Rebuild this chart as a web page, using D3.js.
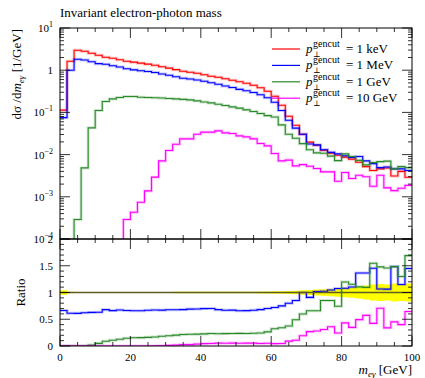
<!DOCTYPE html>
<html>
<head>
<meta charset="utf-8">
<script src="https://d3js.org/d3.v7.min.js"></script>
<style>
body { margin: 0; background: #fff; }
text { font-family: "Liberation Serif", "DejaVu Serif", serif; fill: #000; }
</style>
</head>
<body>
<svg width="425" height="378"></svg>
<script>

// bin edges, 2 GeV wide
var edges = d3.range(0, 101, 2);

// dsigma/dm per bin, one array per generator cut
var keV = [0.113, 1.63, 2.98, 2.82, 2.53, 2.27, 2.03, 1.92, 1.77, 1.63,
  1.55, 1.47, 1.39, 1.31, 1.21, 1.12, 1.03, 0.947, 0.897, 0.849,
  0.782, 0.721, 0.683, 0.629, 0.579, 0.534, 0.492, 0.441, 0.385, 0.318,
  0.242, 0.148, 0.0813, 0.0498, 0.0304, 0.0197, 0.0167, 0.0127, 0.0108, 0.00968,
  0.0087, 0.0078, 0.0066, 0.0052, 0.0042, 0.0046, 0.0048, 0.0031, 0.0040, 0.0029];
var MeV = [0.075, 1.00, 1.82, 1.75, 1.59, 1.43, 1.38, 1.27, 1.19, 1.08,
  1.02, 0.968, 0.930, 0.880, 0.811, 0.758, 0.699, 0.644, 0.619, 0.586,
  0.547, 0.505, 0.464, 0.421, 0.388, 0.352, 0.325, 0.295, 0.262, 0.223,
  0.174, 0.111, 0.065, 0.0423, 0.0304, 0.0179, 0.0170, 0.0130, 0.0113, 0.0104,
  0.0094, 0.0086, 0.0090, 0.0071, 0.0061, 0.0049, 0.0051, 0.0046, 0.0046, 0.0042];
var GeV1 = [0, 0, 0.00029, 0.00484, 0.043, 0.111, 0.181, 0.209, 0.225, 0.238,
  0.238, 0.229, 0.225, 0.222, 0.219, 0.214, 0.209, 0.204, 0.198, 0.188,
  0.177, 0.168, 0.156, 0.146, 0.135, 0.126, 0.115, 0.105, 0.094, 0.084,
  0.078, 0.0505, 0.0304, 0.0244, 0.0182, 0.0130, 0.0110, 0.0108, 0.0092, 0.0072,
  0.0104, 0.0090, 0.0073, 0.0057, 0.0065, 0.0068, 0.0070, 0.0046, 0.0052, 0.0049];
var GeV10 = [0, 0, 0, 0, 0, 0, 0, 0, 0, 0.00029,
  0.00043, 0.00074, 0.00138, 0.00292, 0.0071, 0.0125, 0.0176, 0.0236, 0.0236, 0.0304,
  0.034, 0.034, 0.0365, 0.0328, 0.0316, 0.0278, 0.0263, 0.0236, 0.0183, 0.0161,
  0.0106, 0.0071, 0.0074, 0.0054, 0.0058, 0.0053, 0.0047, 0.0039, 0.0039, 0.00234,
  0.00376, 0.00271, 0.00325, 0.00298, 0.00178, 0.00325, 0.00163, 0.0014, 0.0016, 0.00187];

// relative uncertainty of the reference (1 keV) curve
var refErr = [0.04, 0.015, 0.01, 0.01, 0.01, 0.01, 0.01, 0.01, 0.01, 0.01,
  0.01, 0.01, 0.01, 0.01, 0.01, 0.01, 0.012, 0.012, 0.012, 0.012,
  0.012, 0.013, 0.013, 0.014, 0.014, 0.015, 0.015, 0.016, 0.018, 0.02,
  0.022, 0.025, 0.03, 0.035, 0.04, 0.047, 0.055, 0.06, 0.07, 0.08,
  0.09, 0.1, 0.11, 0.13, 0.15, 0.16, 0.15, 0.17, 0.16, 0.17];

var labels = ["1 keV", "1 MeV", "1 GeV", "10 GeV"];
var colors = ["#ff0000", "#0000ff", "#2a8a2a", "#ff00ff"];
var series = [keV, MeV, GeV1, GeV10];

var svg = d3.select("svg");
var pLeft = 60, pRight = 412, pTop = 28, pMid = 239, pBottom = 346;

var x = d3.scaleLinear().domain([0, 100]).range([pLeft, pRight]);
var y = d3.scaleLog().domain([1e-4, 10]).range([pMid, pTop]);
var yr = d3.scaleLinear().domain([0, 2]).range([pBottom, pMid]);

var defs = svg.append("defs");
defs.append("clipPath").attr("id", "clipMain").append("rect")
    .attr("x", pLeft).attr("y", pTop).attr("width", pRight - pLeft).attr("height", pMid - pTop);
defs.append("clipPath").attr("id", "clipRatio").append("rect")
    .attr("x", pLeft).attr("y", pMid).attr("width", pRight - pLeft).attr("height", pBottom - pMid);

var step = d3.line().curve(d3.curveStepAfter);

function histPath(vals, scale, low) {
  var pts = vals.map(function(v, i) {
    return [x(edges[i]), v > low ? scale(v) : scale(low) + 20];
  });
  pts.push([x(edges[edges.length - 1]), pts[pts.length - 1][1]]);
  return step(pts);
}

// ---- main panel
var gMain = svg.append("g").attr("clip-path", "url(#clipMain)");

series.forEach(function(s, k) {
  gMain.append("path")
      .attr("d", histPath(s, y, 1e-4))
      .attr("fill", "none")
      .attr("stroke", colors[k])
      .attr("stroke-opacity", 0.22)
      .attr("stroke-width", 3);
  gMain.append("path")
      .attr("d", histPath(s, y, 1e-4))
      .attr("fill", "none")
      .attr("stroke", colors[k])
      .attr("stroke-width", 1.1);
});

// ---- ratio panel
var gRatio = svg.append("g").attr("clip-path", "url(#clipRatio)");

var band = d3.area().curve(d3.curveStepAfter)
    .x(function(d) { return d[0]; })
    .y0(function(d) { return d[1]; })
    .y1(function(d) { return d[2]; });
var bandPts = refErr.map(function(e, i) { return [x(edges[i]), yr(1 - e), yr(1 + e)]; });
bandPts.push([x(100), yr(1 - refErr[refErr.length - 1]), yr(1 + refErr[refErr.length - 1])]);
gRatio.append("path").attr("d", band(bandPts)).attr("fill", "#ffff00");

series.slice(1).forEach(function(s, k) {
  var r = s.map(function(v, i) { return v / keV[i]; });
  gRatio.append("path")
      .attr("d", histPath(r, yr, -1))
      .attr("fill", "none")
      .attr("stroke", colors[k + 1])
      .attr("stroke-opacity", 0.22)
      .attr("stroke-width", 3);
  gRatio.append("path")
      .attr("d", histPath(r, yr, -1))
      .attr("fill", "none")
      .attr("stroke", colors[k + 1])
      .attr("stroke-width", 1.1);
});

gRatio.append("line")
    .attr("x1", pLeft).attr("x2", pRight)
    .attr("y1", yr(1)).attr("y2", yr(1))
    .attr("stroke", "#5e5c24").attr("stroke-width", 1.6);

// ---- frames and ticks
var axes = svg.append("g").attr("stroke", "#000").attr("fill", "none");

[[pTop, pMid], [pMid, pBottom]].forEach(function(p) {
  axes.append("rect").attr("x", pLeft).attr("y", p[0])
      .attr("width", pRight - pLeft).attr("height", p[1] - p[0]).attr("stroke-width", 1);
  x.ticks(20).forEach(function(t) {
    var len = t % 20 === 0 ? 10 : 4;
    axes.append("line").attr("x1", x(t)).attr("x2", x(t))
        .attr("y1", p[0]).attr("y2", p[0] + len).attr("stroke-width", 0.8);
    axes.append("line").attr("x1", x(t)).attr("x2", x(t))
        .attr("y1", p[1]).attr("y2", p[1] - len).attr("stroke-width", 0.8);
  });
});

function yTick(yy, len) {
  axes.append("line").attr("x1", pLeft).attr("x2", pLeft + len)
      .attr("y1", yy).attr("y2", yy).attr("stroke-width", 0.8);
  axes.append("line").attr("x1", pRight).attr("x2", pRight - len)
      .attr("y1", yy).attr("y2", yy).attr("stroke-width", 0.8);
}

y.ticks().forEach(function(t) {
  var major = Math.abs(Math.log10(t) - Math.round(Math.log10(t))) < 1e-9;
  yTick(y(t), major ? 10 : 4);
});
yr.ticks(20).forEach(function(t) {
  var major = Math.abs(t * 2 - Math.round(t * 2)) < 1e-9;
  yTick(yr(t), major ? 10 : 4);
});

// ---- tick labels
var decades = [1, 0, -1, -2, -3, -4];
decades.forEach(function(e) {
  var t = svg.append("text")
      .attr("x", 53).attr("y", y(Math.pow(10, e)) + 4)
      .attr("text-anchor", "end").attr("font-size", 11);
  if (e === 0) {
    t.text("1");
  } else {
    t.append("tspan").text("10");
    t.append("tspan").attr("font-size", 8).attr("dy", -5)
        .text(e < 0 ? "\u2212" + (-e) : e);
  }
});

var ratioTicks = [0, 0.5, 1, 1.5, 2];
ratioTicks.forEach(function(t) {
  svg.append("text")
      .attr("x", 53).attr("y", yr(t) + 4)
      .attr("text-anchor", "end").attr("font-size", 11)
      .text(t);
});

var xTicks = [0, 20, 40, 60, 80, 100];
xTicks.forEach(function(t) {
  svg.append("text")
      .attr("x", x(t)).attr("y", 361)
      .attr("text-anchor", "middle").attr("font-size", 11)
      .text(t);
});

// ---- titles
svg.append("text").attr("x", pLeft).attr("y", 17).attr("font-size", 13)
    .text("Invariant electron-photon mass");

var yl = svg.append("text")
    .attr("transform", "translate(21," + (pTop + 1) + ") rotate(-90)")
    .attr("text-anchor", "end").attr("font-size", 13);
yl.append("tspan").text("d\u03c3 /d");
yl.append("tspan").attr("font-style", "italic").text("m");
yl.append("tspan").attr("font-style", "italic").attr("font-size", 9).attr("dy", 3).text("e\u03b3");
yl.append("tspan").attr("dy", -3).text(" [1/GeV]");

svg.append("text")
    .attr("transform", "translate(25," + yr(1) + ") rotate(-90)")
    .attr("text-anchor", "middle").attr("font-size", 13)
    .text("Ratio");

var xl = svg.append("text").attr("x", pRight).attr("y", 374)
    .attr("text-anchor", "end").attr("font-size", 13);
xl.append("tspan").attr("font-style", "italic").text("m");
xl.append("tspan").attr("font-style", "italic").attr("font-size", 9).attr("dy", 3).text("e\u03b3");
xl.append("tspan").attr("dy", -3).text(" [GeV]");

// ---- legend
labels.forEach(function(l, k) {
  var ly = 49 + 16.4 * k;
  svg.append("line").attr("x1", 272).attr("x2", 300)
      .attr("y1", ly).attr("y2", ly)
      .attr("stroke", colors[k]).attr("stroke-width", 1.2);
  svg.append("text").attr("x", 306).attr("y", ly + 4).attr("font-size", 13)
      .attr("font-style", "italic").text("p");
  svg.append("text").attr("x", 313).attr("y", ly - 2).attr("font-size", 10)
      .text("gencut");
  svg.append("text").attr("x", 313).attr("y", ly + 8).attr("font-size", 8)
      .text("\u22a5");
  svg.append("text").attr("x", 346).attr("y", ly + 4).attr("font-size", 13)
      .text("= " + l);
});

</script>
</body>
</html>
